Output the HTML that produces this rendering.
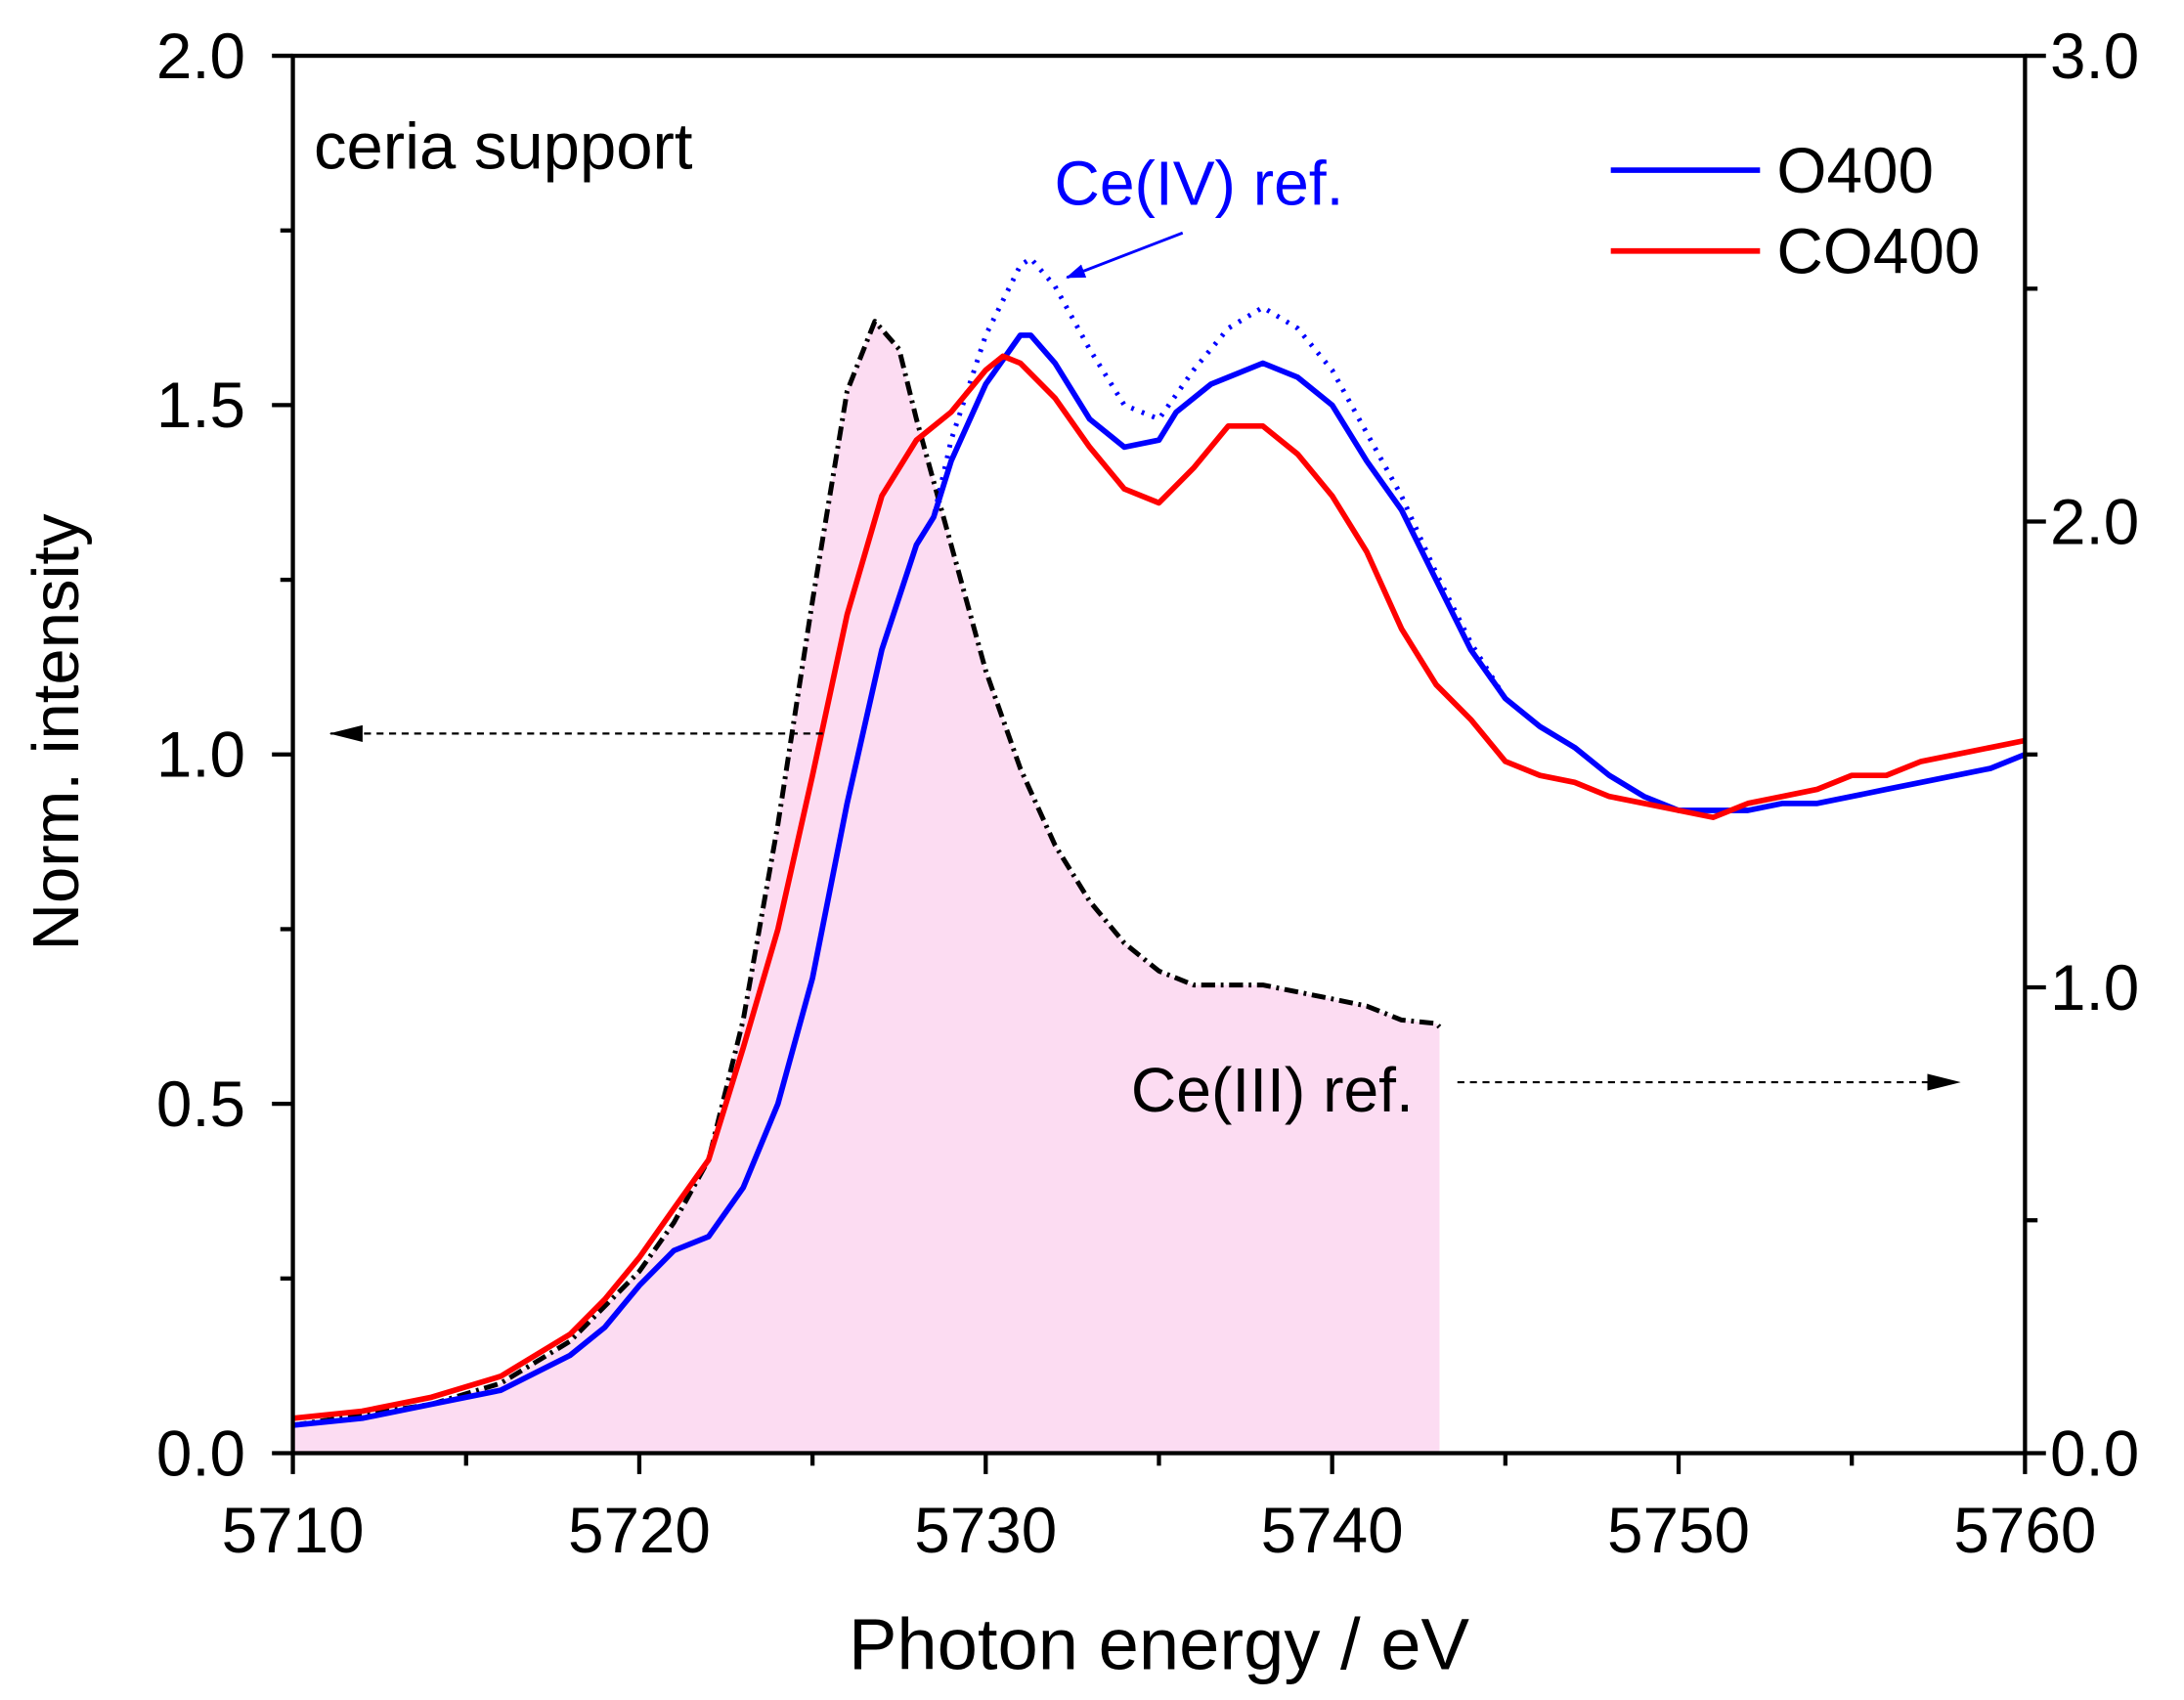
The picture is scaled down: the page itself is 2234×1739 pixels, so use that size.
<!DOCTYPE html>
<html><head><meta charset="utf-8"><style>
html,body{margin:0;padding:0;background:#fff}
svg{display:block}
text{font-family:"Liberation Sans",Arial,sans-serif}
</style></head><body>
<svg id="s" width="2234" height="1739" viewBox="0 0 1566 1219" preserveAspectRatio="none" xmlns="http://www.w3.org/2000/svg">
<defs>
<marker id="ahb" markerWidth="14" markerHeight="10" refX="13" refY="5" orient="auto" markerUnits="userSpaceOnUse"><path d="M0,0 L14,5 L0,10 z" fill="#00f"/></marker>
<marker id="ahk" markerWidth="24" markerHeight="12" refX="23" refY="6" orient="auto" markerUnits="userSpaceOnUse"><path d="M0,0 L24,6 L0,12 z" fill="#000"/></marker>
</defs>
<g id="g"></g>
</svg>
<script>
const X=e=>210+(e-5710)*24.84, Y=v=>1042-v*501;
const blue=[[5710,.04],[5712,.05],[5714,.07],[5716,.09],[5718,.14],[5719,.18],[5720,.24],[5721,.29],[5722,.31],[5723,.38],[5724,.5],[5725,.68],[5726,.93],[5727,1.15],[5728,1.3],[5728.5,1.34],[5729,1.42],[5730,1.53],[5731,1.6],[5731.3,1.6],[5732,1.56],[5733,1.48],[5734,1.44],[5735,1.45],[5735.5,1.49],[5736.5,1.53],[5738,1.56],[5739,1.54],[5740,1.5],[5741,1.42],[5742,1.35],[5743,1.25],[5744,1.15],[5745,1.08],[5746,1.04],[5747,1.01],[5748,.97],[5749,.94],[5750,.92],[5751,.92],[5752,.92],[5753,.93],[5754,.93],[5755,.94],[5756,.95],[5757,.96],[5758,.97],[5759,.98],[5760,1.0]];
const red=[[5710,.05],[5712,.06],[5714,.08],[5716,.11],[5718,.17],[5719,.22],[5720,.28],[5721,.35],[5722,.42],[5723,.58],[5724,.75],[5725,.97],[5726,1.2],[5727,1.37],[5728,1.45],[5729,1.49],[5730,1.55],[5730.5,1.57],[5731,1.56],[5732,1.51],[5733,1.44],[5734,1.38],[5735,1.36],[5736,1.41],[5737,1.47],[5738,1.47],[5739,1.43],[5740,1.37],[5741,1.29],[5742,1.18],[5743,1.1],[5744,1.05],[5745,.99],[5746,.97],[5747,.96],[5748,.94],[5749,.93],[5750,.92],[5751,.91],[5752,.93],[5753,.94],[5754,.95],[5755,.97],[5756,.97],[5757,.99],[5758,1.0],[5759,1.01],[5760,1.02]];
const dot=blue.filter(p=>p[0]<5729).concat([[5729,1.45],[5730,1.6],[5731,1.7],[5731.3,1.71],[5732,1.67],[5733,1.58],[5734,1.5],[5735,1.48],[5736,1.55],[5737,1.61],[5738,1.64],[5739,1.61],[5740,1.55],[5741,1.46],[5742,1.37],[5743,1.26],[5744,1.16],[5745,1.08],[5746,1.04]]).concat(blue.filter(p=>p[0]>5746));
const ce3=[[5710,.04],[5714,.07],[5716,.1],[5718,.16],[5720,.26],[5721,.33],[5722,.42],[5723,.62],[5724,.9],[5725,1.22],[5726,1.52],[5726.8,1.62],[5727.5,1.58],[5728,1.48],[5729,1.3],[5730,1.12],[5731,.98],[5732,.87],[5733,.79],[5734,.73],[5735,.69],[5736,.67],[5737,.67],[5738,.67],[5739,.66],[5740,.65],[5741,.64],[5742,.62],[5743,.615],[5743.1,.61]];
const P=a=>a.map((p,i)=>(i?'L':'M')+X(p[0]).toFixed(1)+','+Y(p[1]).toFixed(1)).join(' ');
let h='';
h+=`<path d="${P(ce3)} L${X(5743.1)},1042 L210,1042 Z" fill="#fcdcf2"/>`;
h+=`<path d="${P(ce3)}" fill="none" stroke="#000" stroke-width="3.5" stroke-dasharray="10,4,2,4" stroke-linejoin="round"/>`;
h+=`<path d="${P(dot)}" fill="none" stroke="#00f" stroke-width="3.5" stroke-dasharray="2,6" stroke-linejoin="round"/>`;
h+=`<path d="${P(blue)}" fill="none" stroke="#00f" stroke-width="4" stroke-linejoin="round"/>`;
h+=`<path d="${P(red)}" fill="none" stroke="#f00" stroke-width="4" stroke-linejoin="round"/>`;
h+=`<rect x="210" y="40" width="1242" height="1002" fill="none" stroke="#000" stroke-width="3"/>`;
for(let i=0;i<=8;i++){const y=Y(i*0.25),L=i%2?9:15;h+=`<line x1="${210-L}" y1="${y}" x2="210" y2="${y}" stroke="#000" stroke-width="3"/>`;if(i%2==0)h+=`<text x="176" y="${y+16}" font-size="46" text-anchor="end">${(i*0.25).toFixed(1)}</text>`;}
for(let i=0;i<=6;i++){const y=1042-i*1002/6,L=i%2?9:15;h+=`<line x1="1452" y1="${y}" x2="${1452+L}" y2="${y}" stroke="#000" stroke-width="3"/>`;if(i%2==0)h+=`<text x="1470" y="${y+16}" font-size="46">${(i*0.5).toFixed(1)}</text>`;}
for(let e=5710;e<=5760;e+=5){const x=X(e),L=(e%10)?9:15;h+=`<line x1="${x}" y1="1042" x2="${x}" y2="${1042+L}" stroke="#000" stroke-width="3"/>`;if(e%10==0)h+=`<text x="${x}" y="1113" font-size="46" text-anchor="middle">${e}</text>`;}
h+=`<text x="831" y="1197" font-size="52" text-anchor="middle">Photon energy / eV</text>`;
h+=`<text transform="translate(56,525) rotate(-90)" font-size="47" text-anchor="middle">Norm. intensity</text>`;
h+=`<text x="225" y="121" font-size="47">ceria support</text>`;
h+=`<line x1="1155" y1="122" x2="1262" y2="122" stroke="#00f" stroke-width="4"/><text x="1274" y="138" font-size="46">O400</text>`;
h+=`<line x1="1155" y1="180" x2="1262" y2="180" stroke="#f00" stroke-width="4"/><text x="1274" y="196" font-size="46">CO400</text>`;
h+=`<text x="756" y="147" font-size="45" fill="#00f">Ce(IV) ref.</text>`;
h+=`<line x1="848" y1="167" x2="765" y2="199" stroke="#00f" stroke-width="2" marker-end="url(#ahb)"/>`;
h+=`<text x="811" y="797" font-size="45">Ce(III) ref.</text>`;
h+=`<line x1="590" y1="526" x2="237" y2="526" stroke="#000" stroke-width="1.5" stroke-dasharray="5,4" marker-end="url(#ahk)"/>`;
h+=`<line x1="1045" y1="776" x2="1405" y2="776" stroke="#000" stroke-width="1.5" stroke-dasharray="5,4" marker-end="url(#ahk)"/>`;
document.getElementById('g').innerHTML=h;
</script>
</body></html>
